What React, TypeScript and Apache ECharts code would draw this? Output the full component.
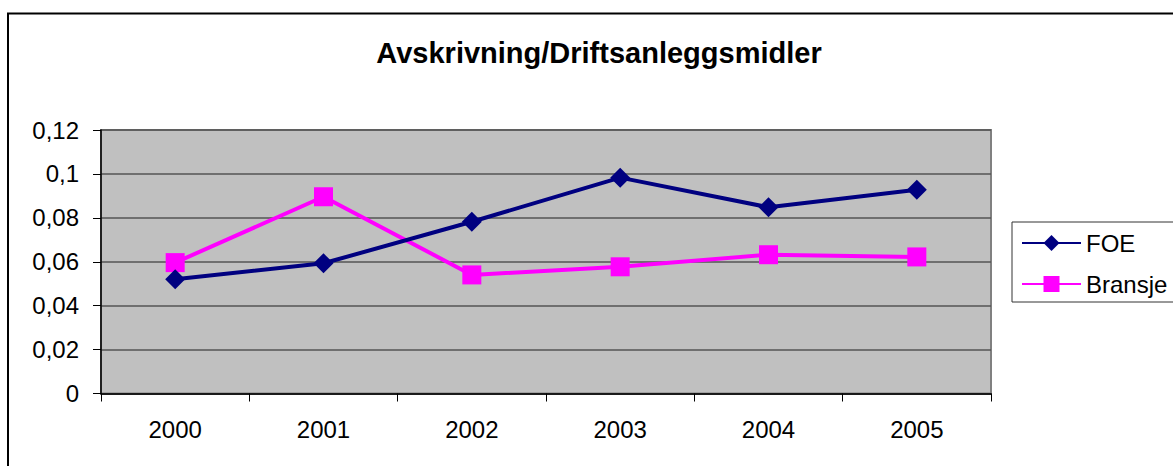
import React, { useEffect, useRef } from "react";
import * as echarts from "echarts";

const titleText = "Avskrivning/Driftsanleggsmidler";
const categories = ["2000", "2001", "2002", "2003", "2004", "2005"];
const foeValues = [0.052, 0.0593, 0.0782, 0.0983, 0.0848, 0.0928];
const bransjeValues = [0.0596, 0.0896, 0.054, 0.0577, 0.0632, 0.0622];
const seriesNames = ["FOE", "Bransje"];
const yMin = 0;
const yMax = 0.12;
const yStep = 0.02;

const FONT = 'Arial, "Liberation Sans", sans-serif';

export default function App() {
  const ref = useRef<HTMLDivElement>(null);
  useEffect(() => {
    if (!ref.current) return;
    const chart = echarts.init(ref.current, undefined, { renderer: "svg" });
    chart.setOption({
      animation: false,
      backgroundColor: "#ffffff",
      title: {
        text: titleText,
        left: 599,
        top: 38,
        textAlign: "center",
        padding: 0,
        textStyle: { fontFamily: FONT, fontSize: 29, fontWeight: "bold", color: "#000" },
      },
      graphic: [
        {
          type: "rect",
          shape: { x: 8, y: 13.5, width: 1300, height: 600 },
          style: { fill: "none", stroke: "#000", lineWidth: 2 },
          z: 100,
          silent: true,
        },
      ],
      legend: {
        orient: "vertical",
        left: 1012,
        top: 222,
        padding: [9, 60, 6, 9],
        itemWidth: 59,
        itemHeight: 20,
        itemGap: 17,
        borderColor: "#333",
        borderWidth: 1,
        backgroundColor: "#fff",
        textStyle: { fontFamily: FONT, fontSize: 24, color: "#000", padding: [0, 0, 0, 0] },
        data: seriesNames,
      },
      grid: {
        left: 101,
        top: 130,
        right: 182,
        bottom: 72.5,
        show: true,
        backgroundColor: "#C0C0C0",
        borderColor: "#808080",
        borderWidth: 2,
      },
      xAxis: {
        type: "category",
        data: categories,
        boundaryGap: true,
        axisLine: { show: true, lineStyle: { color: "#000", width: 1.5 } },
        axisTick: { show: true, length: 8, alignWithLabel: false, lineStyle: { color: "#000", width: 1 } },
        axisLabel: { fontFamily: FONT, fontSize: 24, color: "#000", margin: 24 },
        splitLine: { show: false },
      },
      yAxis: {
        type: "value",
        min: yMin,
        max: yMax,
        interval: yStep,
        axisLine: { show: true, lineStyle: { color: "#000", width: 1.5 } },
        axisTick: { show: true, length: 8, lineStyle: { color: "#000", width: 1 } },
        axisLabel: {
          fontFamily: FONT,
          fontSize: 24,
          color: "#000",
          margin: 22,
          formatter: (v: number) => String(Number(v.toFixed(2))).replace(".", ","),
        },
        splitLine: { show: true, lineStyle: { color: "#555555", width: 1.5 } },
      },
      series: [
        {
          name: seriesNames[0],
          type: "line",
          data: foeValues,
          symbol: "diamond",
          symbolSize: 20,
          lineStyle: { color: "#000080", width: 4 },
          itemStyle: { color: "#000080" },
          z: 3,
        },
        {
          name: seriesNames[1],
          type: "line",
          data: bransjeValues,
          symbol: "rect",
          symbolSize: 19,
          lineStyle: { color: "#FF00FF", width: 4 },
          itemStyle: { color: "#FF00FF" },
          z: 2,
        },
      ],
    });
    return () => chart.dispose();
  }, []);
  return (
    <div
      ref={ref}
      style={{ position: "fixed", left: 0, top: 0, width: 1173, height: 466 }}
    />
  );
}
